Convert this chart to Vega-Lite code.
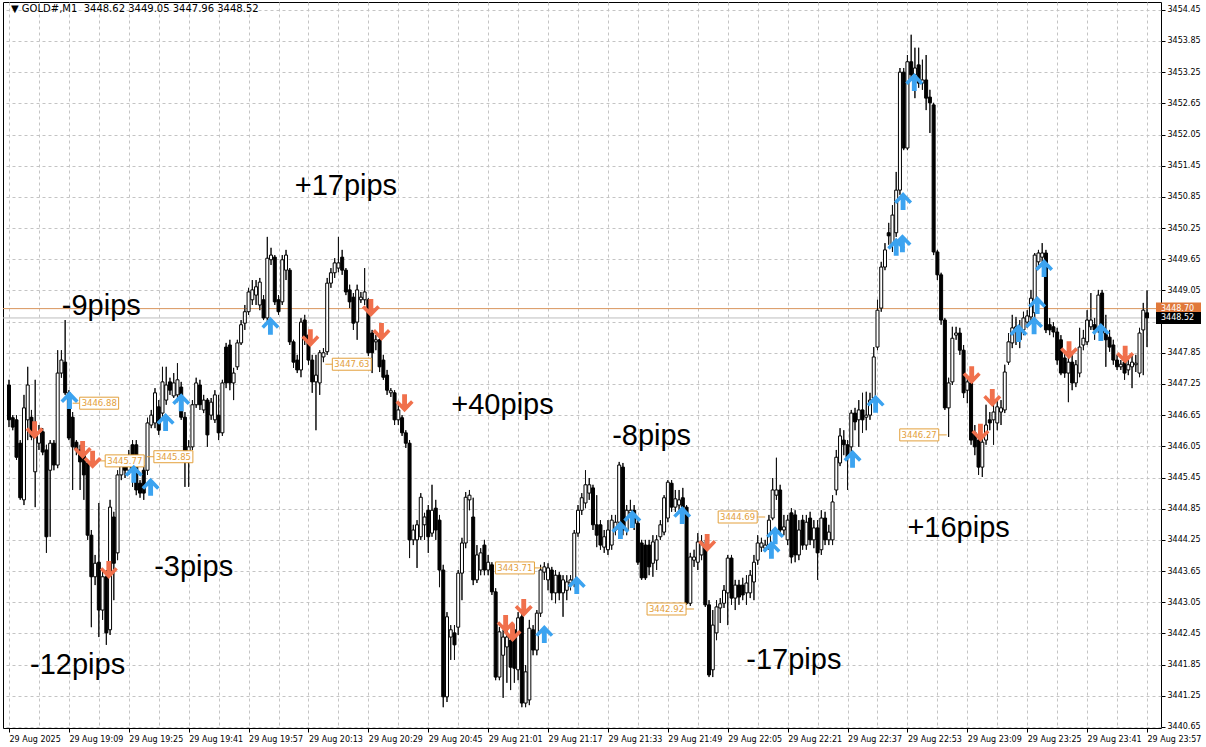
{
"$schema":"https://vega.github.io/schema/vega-lite/v6.json",
"width":1158,"height":726,
"autosize":{"type":"none"},
"padding":{"left":3,"top":2,"right":45,"bottom":19},
"background":"white",
"config":{"view":{"stroke":"#000000","strokeWidth":1},"font":"DejaVu Sans","axis":{"labelOverlap":false,"labelSeparation":0,"labelFont":"DejaVu Sans","labelFontSize":8,"labelColor":"#000000","gridDash":[3,3],"gridColor":"#c4c4c4","domain":false,"tickColor":"#000000"}},
"datasets":{
"header":[{"t":"2025-08-29T18:53","p":3454.46,"label":"▼ GOLD#,M1\u00a0 3448.62 3449.05 3447.96 3448.52"}],
"candles":[
{"t":"2025-08-29T18:53","o":3447.23,"h":3447.33,"l":3446.42,"c":3446.56},
{"t":"2025-08-29T18:54","o":3446.60,"h":3446.65,"l":3446.36,"c":3446.42},
{"t":"2025-08-29T18:55","o":3446.56,"h":3446.65,"l":3445.79,"c":3445.84},
{"t":"2025-08-29T18:56","o":3446.11,"h":3446.17,"l":3445.02,"c":3445.06},
{"t":"2025-08-29T18:57","o":3445.02,"h":3447.04,"l":3444.92,"c":3446.79},
{"t":"2025-08-29T18:58","o":3446.56,"h":3447.58,"l":3446.17,"c":3447.23},
{"t":"2025-08-29T18:59","o":3446.61,"h":3446.75,"l":3446.17,"c":3446.23},
{"t":"2025-08-29T19:00","o":3445.56,"h":3447.33,"l":3444.88,"c":3446.23},
{"t":"2025-08-29T19:01","o":3446.11,"h":3446.46,"l":3445.98,"c":3446.31},
{"t":"2025-08-29T19:02","o":3446.33,"h":3446.40,"l":3445.88,"c":3445.94},
{"t":"2025-08-29T19:03","o":3445.98,"h":3446.08,"l":3444.00,"c":3444.31},
{"t":"2025-08-29T19:04","o":3445.59,"h":3446.17,"l":3444.31,"c":3446.11},
{"t":"2025-08-29T19:05","o":3446.11,"h":3446.17,"l":3445.59,"c":3445.69},
{"t":"2025-08-29T19:06","o":3445.69,"h":3447.90,"l":3445.63,"c":3447.46},
{"t":"2025-08-29T19:07","o":3447.46,"h":3447.90,"l":3447.37,"c":3447.71},
{"t":"2025-08-29T19:08","o":3447.67,"h":3448.48,"l":3447.04,"c":3447.08},
{"t":"2025-08-29T19:09","o":3447.08,"h":3447.13,"l":3446.17,"c":3446.21},
{"t":"2025-08-29T19:10","o":3446.61,"h":3446.71,"l":3445.21,"c":3446.04},
{"t":"2025-08-29T19:11","o":3446.13,"h":3446.17,"l":3445.88,"c":3445.98},
{"t":"2025-08-29T19:12","o":3445.98,"h":3446.08,"l":3445.21,"c":3445.75},
{"t":"2025-08-29T19:13","o":3445.88,"h":3445.98,"l":3445.02,"c":3445.50},
{"t":"2025-08-29T19:14","o":3445.73,"h":3445.79,"l":3444.25,"c":3444.34},
{"t":"2025-08-29T19:15","o":3444.34,"h":3444.44,"l":3442.57,"c":3443.54},
{"t":"2025-08-29T19:16","o":3443.54,"h":3443.96,"l":3443.38,"c":3443.80},
{"t":"2025-08-29T19:17","o":3443.82,"h":3444.96,"l":3442.38,"c":3442.90},
{"t":"2025-08-29T19:18","o":3442.90,"h":3443.67,"l":3442.71,"c":3443.54},
{"t":"2025-08-29T19:19","o":3443.54,"h":3443.67,"l":3442.23,"c":3442.46},
{"t":"2025-08-29T19:20","o":3442.52,"h":3445.02,"l":3442.42,"c":3444.88},
{"t":"2025-08-29T19:21","o":3444.69,"h":3444.79,"l":3443.09,"c":3443.80},
{"t":"2025-08-29T19:22","o":3444.00,"h":3445.59,"l":3443.86,"c":3445.50},
{"t":"2025-08-29T19:23","o":3445.50,"h":3445.79,"l":3445.40,"c":3445.69},
{"t":"2025-08-29T19:24","o":3445.69,"h":3445.79,"l":3445.44,"c":3445.59},
{"t":"2025-08-29T19:25","o":3445.59,"h":3445.98,"l":3445.50,"c":3445.73},
{"t":"2025-08-29T19:26","o":3446.08,"h":3446.17,"l":3445.27,"c":3445.63},
{"t":"2025-08-29T19:27","o":3446.08,"h":3446.17,"l":3445.11,"c":3445.21},
{"t":"2025-08-29T19:28","o":3445.34,"h":3445.40,"l":3445.06,"c":3445.15},
{"t":"2025-08-29T19:29","o":3445.59,"h":3445.69,"l":3445.02,"c":3445.15},
{"t":"2025-08-29T19:30","o":3445.59,"h":3446.60,"l":3445.50,"c":3446.50},
{"t":"2025-08-29T19:31","o":3446.46,"h":3446.75,"l":3446.40,"c":3446.65},
{"t":"2025-08-29T19:32","o":3446.50,"h":3447.17,"l":3446.40,"c":3447.08},
{"t":"2025-08-29T19:33","o":3446.81,"h":3446.94,"l":3446.27,"c":3446.36},
{"t":"2025-08-29T19:34","o":3446.69,"h":3447.58,"l":3446.60,"c":3447.29},
{"t":"2025-08-29T19:35","o":3446.94,"h":3447.58,"l":3446.85,"c":3447.23},
{"t":"2025-08-29T19:36","o":3447.29,"h":3447.37,"l":3447.04,"c":3447.13},
{"t":"2025-08-29T19:37","o":3447.02,"h":3447.46,"l":3446.98,"c":3447.27},
{"t":"2025-08-29T19:38","o":3447.04,"h":3447.65,"l":3446.90,"c":3447.33},
{"t":"2025-08-29T19:39","o":3447.19,"h":3447.29,"l":3446.56,"c":3446.61},
{"t":"2025-08-29T19:40","o":3446.61,"h":3446.71,"l":3445.27,"c":3445.84},
{"t":"2025-08-29T19:41","o":3445.84,"h":3446.17,"l":3445.27,"c":3446.04},
{"t":"2025-08-29T19:42","o":3446.04,"h":3446.94,"l":3445.98,"c":3446.85},
{"t":"2025-08-29T19:43","o":3446.85,"h":3447.37,"l":3446.79,"c":3447.27},
{"t":"2025-08-29T19:44","o":3447.23,"h":3447.33,"l":3446.75,"c":3446.85},
{"t":"2025-08-29T19:45","o":3446.75,"h":3447.04,"l":3446.69,"c":3446.94},
{"t":"2025-08-29T19:46","o":3446.94,"h":3446.98,"l":3446.04,"c":3446.27},
{"t":"2025-08-29T19:47","o":3446.65,"h":3446.98,"l":3446.56,"c":3446.90},
{"t":"2025-08-29T19:48","o":3446.56,"h":3447.13,"l":3446.50,"c":3447.04},
{"t":"2025-08-29T19:49","o":3446.65,"h":3447.04,"l":3446.17,"c":3446.31},
{"t":"2025-08-29T19:50","o":3446.31,"h":3447.33,"l":3446.25,"c":3447.27},
{"t":"2025-08-29T19:51","o":3447.96,"h":3448.04,"l":3447.17,"c":3447.27},
{"t":"2025-08-29T19:52","o":3448.00,"h":3448.10,"l":3447.13,"c":3447.27},
{"t":"2025-08-29T19:53","o":3447.27,"h":3447.56,"l":3446.94,"c":3447.46},
{"t":"2025-08-29T19:54","o":3447.58,"h":3448.10,"l":3447.52,"c":3448.04},
{"t":"2025-08-29T19:55","o":3448.04,"h":3448.48,"l":3448.00,"c":3448.39},
{"t":"2025-08-29T19:56","o":3448.42,"h":3448.77,"l":3448.29,"c":3448.64},
{"t":"2025-08-29T19:57","o":3448.64,"h":3449.10,"l":3448.58,"c":3449.02},
{"t":"2025-08-29T19:58","o":3448.87,"h":3449.25,"l":3448.77,"c":3449.06},
{"t":"2025-08-29T19:59","o":3448.96,"h":3449.25,"l":3448.77,"c":3449.12},
{"t":"2025-08-29T20:00","o":3448.77,"h":3449.29,"l":3448.67,"c":3449.21},
{"t":"2025-08-29T20:01","o":3448.87,"h":3448.96,"l":3448.48,"c":3448.52},
{"t":"2025-08-29T20:02","o":3448.52,"h":3450.08,"l":3448.44,"c":3449.67},
{"t":"2025-08-29T20:03","o":3449.64,"h":3449.87,"l":3449.54,"c":3449.73},
{"t":"2025-08-29T20:04","o":3449.69,"h":3449.73,"l":3448.77,"c":3448.83},
{"t":"2025-08-29T20:05","o":3448.87,"h":3448.96,"l":3448.58,"c":3448.64},
{"t":"2025-08-29T20:06","o":3448.83,"h":3449.73,"l":3448.77,"c":3449.64},
{"t":"2025-08-29T20:07","o":3449.44,"h":3449.83,"l":3449.25,"c":3449.73},
{"t":"2025-08-29T20:08","o":3449.44,"h":3449.48,"l":3448.00,"c":3448.06},
{"t":"2025-08-29T20:09","o":3448.06,"h":3448.10,"l":3447.56,"c":3447.67},
{"t":"2025-08-29T20:10","o":3447.71,"h":3447.81,"l":3447.46,"c":3447.52},
{"t":"2025-08-29T20:11","o":3447.52,"h":3448.52,"l":3447.38,"c":3448.44},
{"t":"2025-08-29T20:12","o":3448.48,"h":3448.58,"l":3448.00,"c":3448.10},
{"t":"2025-08-29T20:13","o":3448.19,"h":3448.25,"l":3447.62,"c":3447.71},
{"t":"2025-08-29T20:14","o":3447.71,"h":3447.81,"l":3447.08,"c":3447.29},
{"t":"2025-08-29T20:15","o":3447.29,"h":3447.81,"l":3446.36,"c":3447.42},
{"t":"2025-08-29T20:16","o":3447.27,"h":3447.90,"l":3447.04,"c":3447.85},
{"t":"2025-08-29T20:17","o":3447.77,"h":3447.94,"l":3447.67,"c":3447.85},
{"t":"2025-08-29T20:18","o":3447.87,"h":3449.29,"l":3447.81,"c":3449.19},
{"t":"2025-08-29T20:19","o":3449.19,"h":3449.48,"l":3449.10,"c":3449.39},
{"t":"2025-08-29T20:20","o":3449.39,"h":3449.67,"l":3449.29,"c":3449.58},
{"t":"2025-08-29T20:21","o":3449.48,"h":3450.08,"l":3449.40,"c":3449.58},
{"t":"2025-08-29T20:22","o":3449.69,"h":3449.83,"l":3449.35,"c":3449.44},
{"t":"2025-08-29T20:23","o":3449.44,"h":3449.48,"l":3448.96,"c":3449.02},
{"t":"2025-08-29T20:24","o":3449.06,"h":3449.16,"l":3448.71,"c":3448.83},
{"t":"2025-08-29T20:25","o":3448.92,"h":3449.00,"l":3448.29,"c":3448.42},
{"t":"2025-08-29T20:26","o":3448.44,"h":3449.16,"l":3448.10,"c":3449.06},
{"t":"2025-08-29T20:27","o":3448.87,"h":3449.02,"l":3448.81,"c":3448.92},
{"t":"2025-08-29T20:28","o":3448.87,"h":3449.48,"l":3448.77,"c":3449.02},
{"t":"2025-08-29T20:29","o":3448.87,"h":3448.90,"l":3447.79,"c":3447.85},
{"t":"2025-08-29T20:30","o":3448.23,"h":3448.29,"l":3447.46,"c":3447.85},
{"t":"2025-08-29T20:31","o":3448.06,"h":3448.19,"l":3447.90,"c":3448.10},
{"t":"2025-08-29T20:32","o":3448.10,"h":3448.19,"l":3447.48,"c":3447.58},
{"t":"2025-08-29T20:33","o":3447.71,"h":3447.81,"l":3447.33,"c":3447.38},
{"t":"2025-08-29T20:34","o":3447.42,"h":3447.52,"l":3447.04,"c":3447.13},
{"t":"2025-08-29T20:35","o":3447.08,"h":3447.17,"l":3447.00,"c":3447.12},
{"t":"2025-08-29T20:36","o":3447.08,"h":3447.13,"l":3446.46,"c":3446.56},
{"t":"2025-08-29T20:37","o":3446.56,"h":3446.85,"l":3446.46,"c":3446.75},
{"t":"2025-08-29T20:38","o":3446.60,"h":3446.65,"l":3446.25,"c":3446.31},
{"t":"2025-08-29T20:39","o":3446.31,"h":3446.36,"l":3446.02,"c":3446.11},
{"t":"2025-08-29T20:40","o":3446.11,"h":3446.17,"l":3443.90,"c":3444.25},
{"t":"2025-08-29T20:41","o":3444.25,"h":3444.54,"l":3444.15,"c":3444.44},
{"t":"2025-08-29T20:42","o":3444.25,"h":3444.63,"l":3443.71,"c":3444.54},
{"t":"2025-08-29T20:43","o":3444.31,"h":3445.15,"l":3444.25,"c":3445.07},
{"t":"2025-08-29T20:44","o":3444.54,"h":3444.77,"l":3444.25,"c":3444.69},
{"t":"2025-08-29T20:45","o":3444.82,"h":3444.92,"l":3444.00,"c":3444.31},
{"t":"2025-08-29T20:46","o":3444.38,"h":3445.31,"l":3444.31,"c":3444.82},
{"t":"2025-08-29T20:47","o":3444.86,"h":3445.02,"l":3444.25,"c":3444.44},
{"t":"2025-08-29T20:48","o":3444.63,"h":3444.73,"l":3443.34,"c":3443.67},
{"t":"2025-08-29T20:49","o":3443.67,"h":3443.77,"l":3441.03,"c":3441.23},
{"t":"2025-08-29T20:50","o":3441.23,"h":3442.86,"l":3441.13,"c":3442.77},
{"t":"2025-08-29T20:51","o":3442.38,"h":3442.61,"l":3441.94,"c":3442.52},
{"t":"2025-08-29T20:52","o":3442.46,"h":3442.61,"l":3441.94,"c":3442.23},
{"t":"2025-08-29T20:53","o":3442.57,"h":3443.67,"l":3442.42,"c":3443.61},
{"t":"2025-08-29T20:54","o":3443.61,"h":3444.29,"l":3443.09,"c":3444.19},
{"t":"2025-08-29T20:55","o":3444.19,"h":3445.17,"l":3444.09,"c":3445.07},
{"t":"2025-08-29T20:56","o":3445.02,"h":3445.21,"l":3444.82,"c":3445.11},
{"t":"2025-08-29T20:57","o":3444.69,"h":3445.06,"l":3443.38,"c":3443.48},
{"t":"2025-08-29T20:58","o":3443.48,"h":3444.15,"l":3443.42,"c":3443.96},
{"t":"2025-08-29T20:59","o":3443.67,"h":3444.09,"l":3443.57,"c":3444.00},
{"t":"2025-08-29T21:00","o":3444.15,"h":3444.25,"l":3443.57,"c":3443.67},
{"t":"2025-08-29T21:01","o":3443.67,"h":3443.96,"l":3443.57,"c":3443.82},
{"t":"2025-08-29T21:02","o":3443.77,"h":3443.82,"l":3443.19,"c":3443.25},
{"t":"2025-08-29T21:03","o":3443.25,"h":3443.32,"l":3441.55,"c":3441.61},
{"t":"2025-08-29T21:04","o":3441.61,"h":3442.57,"l":3441.55,"c":3442.48},
{"t":"2025-08-29T21:05","o":3442.03,"h":3442.52,"l":3441.21,"c":3442.38},
{"t":"2025-08-29T21:06","o":3442.19,"h":3442.61,"l":3441.50,"c":3442.38},
{"t":"2025-08-29T21:07","o":3442.32,"h":3442.42,"l":3441.36,"c":3441.80},
{"t":"2025-08-29T21:08","o":3442.52,"h":3442.61,"l":3441.50,"c":3441.78},
{"t":"2025-08-29T21:09","o":3441.75,"h":3442.86,"l":3441.55,"c":3442.75},
{"t":"2025-08-29T21:10","o":3442.77,"h":3442.86,"l":3441.03,"c":3441.11},
{"t":"2025-08-29T21:11","o":3441.11,"h":3441.84,"l":3441.03,"c":3441.71},
{"t":"2025-08-29T21:12","o":3441.17,"h":3442.71,"l":3441.07,"c":3442.55},
{"t":"2025-08-29T21:13","o":3442.52,"h":3442.61,"l":3442.03,"c":3442.13},
{"t":"2025-08-29T21:14","o":3442.13,"h":3442.90,"l":3442.03,"c":3442.84},
{"t":"2025-08-29T21:15","o":3442.84,"h":3443.77,"l":3442.77,"c":3443.67},
{"t":"2025-08-29T21:16","o":3443.63,"h":3443.82,"l":3443.48,"c":3443.73},
{"t":"2025-08-29T21:17","o":3443.48,"h":3443.80,"l":3443.28,"c":3443.71},
{"t":"2025-08-29T21:18","o":3443.67,"h":3443.73,"l":3443.09,"c":3443.23},
{"t":"2025-08-29T21:19","o":3443.23,"h":3443.67,"l":3443.03,"c":3443.57},
{"t":"2025-08-29T21:20","o":3443.57,"h":3443.63,"l":3443.09,"c":3443.23},
{"t":"2025-08-29T21:21","o":3443.23,"h":3443.57,"l":3442.77,"c":3443.48},
{"t":"2025-08-29T21:22","o":3443.28,"h":3443.57,"l":3443.09,"c":3443.44},
{"t":"2025-08-29T21:23","o":3443.42,"h":3443.57,"l":3443.28,"c":3443.48},
{"t":"2025-08-29T21:24","o":3443.42,"h":3444.44,"l":3443.34,"c":3444.38},
{"t":"2025-08-29T21:25","o":3444.38,"h":3444.92,"l":3444.31,"c":3444.82},
{"t":"2025-08-29T21:26","o":3444.82,"h":3445.15,"l":3444.73,"c":3445.06},
{"t":"2025-08-29T21:27","o":3444.96,"h":3445.59,"l":3444.86,"c":3445.31},
{"t":"2025-08-29T21:28","o":3445.15,"h":3445.44,"l":3445.02,"c":3445.31},
{"t":"2025-08-29T21:29","o":3445.25,"h":3445.31,"l":3444.44,"c":3444.54},
{"t":"2025-08-29T21:30","o":3444.54,"h":3445.11,"l":3444.11,"c":3444.34},
{"t":"2025-08-29T21:31","o":3444.54,"h":3444.63,"l":3444.06,"c":3444.15},
{"t":"2025-08-29T21:32","o":3444.11,"h":3444.44,"l":3444.00,"c":3444.31},
{"t":"2025-08-29T21:33","o":3444.06,"h":3444.63,"l":3443.96,"c":3444.44},
{"t":"2025-08-29T21:34","o":3444.15,"h":3444.73,"l":3444.06,"c":3444.63},
{"t":"2025-08-29T21:35","o":3444.44,"h":3444.73,"l":3444.34,"c":3444.59},
{"t":"2025-08-29T21:36","o":3444.59,"h":3445.75,"l":3444.48,"c":3445.69},
{"t":"2025-08-29T21:37","o":3445.65,"h":3445.73,"l":3444.34,"c":3444.44},
{"t":"2025-08-29T21:38","o":3444.44,"h":3444.92,"l":3444.34,"c":3444.82},
{"t":"2025-08-29T21:39","o":3444.77,"h":3445.02,"l":3444.67,"c":3444.82},
{"t":"2025-08-29T21:40","o":3444.82,"h":3444.92,"l":3444.44,"c":3444.57},
{"t":"2025-08-29T21:41","o":3444.57,"h":3444.63,"l":3443.77,"c":3443.82},
{"t":"2025-08-29T21:42","o":3444.19,"h":3444.25,"l":3443.48,"c":3443.52},
{"t":"2025-08-29T21:43","o":3444.15,"h":3444.25,"l":3443.48,"c":3443.52},
{"t":"2025-08-29T21:44","o":3444.15,"h":3444.25,"l":3443.57,"c":3443.73},
{"t":"2025-08-29T21:45","o":3443.80,"h":3444.34,"l":3443.54,"c":3444.21},
{"t":"2025-08-29T21:46","o":3443.86,"h":3444.34,"l":3443.67,"c":3444.25},
{"t":"2025-08-29T21:47","o":3444.31,"h":3444.63,"l":3444.25,"c":3444.54},
{"t":"2025-08-29T21:48","o":3444.40,"h":3445.11,"l":3444.34,"c":3445.06},
{"t":"2025-08-29T21:49","o":3444.67,"h":3445.40,"l":3444.59,"c":3445.36},
{"t":"2025-08-29T21:50","o":3445.34,"h":3445.40,"l":3444.79,"c":3444.88},
{"t":"2025-08-29T21:51","o":3444.88,"h":3445.21,"l":3444.79,"c":3445.04},
{"t":"2025-08-29T21:52","o":3444.92,"h":3445.21,"l":3444.82,"c":3445.02},
{"t":"2025-08-29T21:53","o":3445.06,"h":3445.25,"l":3444.79,"c":3444.88},
{"t":"2025-08-29T21:54","o":3444.88,"h":3444.92,"l":3443.00,"c":3443.03},
{"t":"2025-08-29T21:55","o":3443.03,"h":3444.00,"l":3442.98,"c":3443.92},
{"t":"2025-08-29T21:56","o":3443.86,"h":3444.06,"l":3443.73,"c":3443.92},
{"t":"2025-08-29T21:57","o":3443.82,"h":3444.38,"l":3443.67,"c":3444.21},
{"t":"2025-08-29T21:58","o":3443.96,"h":3444.34,"l":3443.86,"c":3444.21},
{"t":"2025-08-29T21:59","o":3444.15,"h":3444.25,"l":3442.96,"c":3443.00},
{"t":"2025-08-29T22:00","o":3443.00,"h":3443.09,"l":3441.61,"c":3441.65},
{"t":"2025-08-29T22:01","o":3441.75,"h":3442.90,"l":3441.61,"c":3442.61},
{"t":"2025-08-29T22:02","o":3442.46,"h":3443.09,"l":3442.32,"c":3442.96},
{"t":"2025-08-29T22:03","o":3442.94,"h":3443.13,"l":3442.65,"c":3443.02},
{"t":"2025-08-29T22:04","o":3443.03,"h":3443.38,"l":3442.94,"c":3443.28},
{"t":"2025-08-29T22:05","o":3443.23,"h":3443.96,"l":3442.61,"c":3443.90},
{"t":"2025-08-29T22:06","o":3443.90,"h":3443.96,"l":3443.00,"c":3443.13},
{"t":"2025-08-29T22:07","o":3443.13,"h":3443.48,"l":3442.90,"c":3443.38},
{"t":"2025-08-29T22:08","o":3443.38,"h":3443.48,"l":3443.00,"c":3443.15},
{"t":"2025-08-29T22:09","o":3443.38,"h":3443.52,"l":3443.09,"c":3443.19},
{"t":"2025-08-29T22:10","o":3443.23,"h":3443.57,"l":3443.00,"c":3443.42},
{"t":"2025-08-29T22:11","o":3443.23,"h":3443.67,"l":3443.13,"c":3443.57},
{"t":"2025-08-29T22:12","o":3443.44,"h":3443.96,"l":3443.09,"c":3443.82},
{"t":"2025-08-29T22:13","o":3443.86,"h":3444.34,"l":3443.77,"c":3444.19},
{"t":"2025-08-29T22:14","o":3444.11,"h":3444.29,"l":3444.02,"c":3444.19},
{"t":"2025-08-29T22:15","o":3444.09,"h":3444.25,"l":3444.02,"c":3444.15},
{"t":"2025-08-29T22:16","o":3444.15,"h":3444.73,"l":3444.06,"c":3444.63},
{"t":"2025-08-29T22:17","o":3444.67,"h":3445.44,"l":3444.63,"c":3445.21},
{"t":"2025-08-29T22:18","o":3445.11,"h":3445.83,"l":3445.02,"c":3445.21},
{"t":"2025-08-29T22:19","o":3445.21,"h":3445.31,"l":3444.34,"c":3444.44},
{"t":"2025-08-29T22:20","o":3444.44,"h":3444.73,"l":3444.34,"c":3444.50},
{"t":"2025-08-29T22:21","o":3444.25,"h":3444.73,"l":3444.15,"c":3444.63},
{"t":"2025-08-29T22:22","o":3444.77,"h":3444.86,"l":3443.80,"c":3443.92},
{"t":"2025-08-29T22:23","o":3444.73,"h":3444.82,"l":3443.82,"c":3443.96},
{"t":"2025-08-29T22:24","o":3443.96,"h":3444.63,"l":3443.86,"c":3444.44},
{"t":"2025-08-29T22:25","o":3444.63,"h":3444.73,"l":3444.06,"c":3444.15},
{"t":"2025-08-29T22:26","o":3444.15,"h":3444.73,"l":3444.06,"c":3444.59},
{"t":"2025-08-29T22:27","o":3444.67,"h":3444.79,"l":3444.15,"c":3444.25},
{"t":"2025-08-29T22:28","o":3444.25,"h":3444.63,"l":3444.09,"c":3444.48},
{"t":"2025-08-29T22:29","o":3444.48,"h":3444.63,"l":3443.48,"c":3444.00},
{"t":"2025-08-29T22:30","o":3444.06,"h":3444.82,"l":3443.96,"c":3444.67},
{"t":"2025-08-29T22:31","o":3444.67,"h":3444.79,"l":3444.15,"c":3444.25},
{"t":"2025-08-29T22:32","o":3444.25,"h":3444.54,"l":3444.15,"c":3444.40},
{"t":"2025-08-29T22:33","o":3444.25,"h":3445.11,"l":3444.15,"c":3444.98},
{"t":"2025-08-29T22:34","o":3445.21,"h":3445.98,"l":3445.11,"c":3445.84},
{"t":"2025-08-29T22:35","o":3445.73,"h":3446.40,"l":3445.67,"c":3446.25},
{"t":"2025-08-29T22:36","o":3446.17,"h":3446.36,"l":3445.88,"c":3446.08},
{"t":"2025-08-29T22:37","o":3446.08,"h":3446.17,"l":3445.21,"c":3445.84},
{"t":"2025-08-29T22:38","o":3446.04,"h":3446.75,"l":3445.94,"c":3446.69},
{"t":"2025-08-29T22:39","o":3446.69,"h":3446.79,"l":3446.36,"c":3446.52},
{"t":"2025-08-29T22:40","o":3446.56,"h":3446.94,"l":3446.04,"c":3446.75},
{"t":"2025-08-29T22:41","o":3446.75,"h":3447.08,"l":3446.31,"c":3446.56},
{"t":"2025-08-29T22:42","o":3446.61,"h":3447.10,"l":3446.36,"c":3446.65},
{"t":"2025-08-29T22:43","o":3446.65,"h":3447.08,"l":3446.56,"c":3446.94},
{"t":"2025-08-29T22:44","o":3446.98,"h":3447.96,"l":3446.90,"c":3447.77},
{"t":"2025-08-29T22:45","o":3447.96,"h":3448.87,"l":3447.90,"c":3448.67},
{"t":"2025-08-29T22:46","o":3448.71,"h":3449.60,"l":3448.64,"c":3449.50},
{"t":"2025-08-29T22:47","o":3449.50,"h":3449.96,"l":3449.44,"c":3449.83},
{"t":"2025-08-29T22:48","o":3450.16,"h":3450.35,"l":3449.93,"c":3450.10},
{"t":"2025-08-29T22:49","o":3449.93,"h":3450.69,"l":3449.79,"c":3450.50},
{"t":"2025-08-29T22:50","o":3450.16,"h":3451.33,"l":3450.08,"c":3450.98},
{"t":"2025-08-29T22:51","o":3450.98,"h":3453.33,"l":3450.89,"c":3453.25},
{"t":"2025-08-29T22:52","o":3453.25,"h":3453.33,"l":3451.75,"c":3451.79},
{"t":"2025-08-29T22:53","o":3451.79,"h":3453.58,"l":3451.75,"c":3453.45},
{"t":"2025-08-29T22:54","o":3453.45,"h":3453.97,"l":3453.10,"c":3453.20},
{"t":"2025-08-29T22:55","o":3453.20,"h":3453.72,"l":3452.75,"c":3453.33},
{"t":"2025-08-29T22:56","o":3453.39,"h":3453.72,"l":3452.95,"c":3453.04},
{"t":"2025-08-29T22:57","o":3453.04,"h":3453.49,"l":3452.91,"c":3453.10},
{"t":"2025-08-29T22:58","o":3453.10,"h":3453.58,"l":3452.52,"c":3452.75},
{"t":"2025-08-29T22:59","o":3452.77,"h":3452.91,"l":3452.08,"c":3452.66},
{"t":"2025-08-29T23:00","o":3452.62,"h":3452.66,"l":3449.73,"c":3449.79},
{"t":"2025-08-29T23:01","o":3449.79,"h":3449.83,"l":3449.25,"c":3449.35},
{"t":"2025-08-29T23:02","o":3449.35,"h":3449.39,"l":3448.39,"c":3448.48},
{"t":"2025-08-29T23:03","o":3448.48,"h":3448.52,"l":3446.75,"c":3446.79},
{"t":"2025-08-29T23:04","o":3446.79,"h":3447.37,"l":3446.23,"c":3447.27},
{"t":"2025-08-29T23:05","o":3447.29,"h":3448.35,"l":3447.23,"c":3448.13},
{"t":"2025-08-29T23:06","o":3448.19,"h":3448.35,"l":3448.10,"c":3448.23},
{"t":"2025-08-29T23:07","o":3448.23,"h":3448.33,"l":3447.81,"c":3447.90},
{"t":"2025-08-29T23:08","o":3447.90,"h":3448.00,"l":3446.98,"c":3447.08},
{"t":"2025-08-29T23:09","o":3447.13,"h":3447.42,"l":3446.88,"c":3447.29},
{"t":"2025-08-29T23:10","o":3447.27,"h":3447.37,"l":3446.08,"c":3446.17},
{"t":"2025-08-29T23:11","o":3446.31,"h":3446.46,"l":3445.88,"c":3446.04},
{"t":"2025-08-29T23:12","o":3446.17,"h":3446.27,"l":3445.50,"c":3445.65},
{"t":"2025-08-29T23:13","o":3445.65,"h":3446.27,"l":3445.46,"c":3446.13},
{"t":"2025-08-29T23:14","o":3446.17,"h":3446.85,"l":3446.08,"c":3446.46},
{"t":"2025-08-29T23:15","o":3446.56,"h":3446.71,"l":3446.36,"c":3446.50},
{"t":"2025-08-29T23:16","o":3446.56,"h":3446.85,"l":3446.08,"c":3446.71},
{"t":"2025-08-29T23:17","o":3446.50,"h":3446.94,"l":3446.36,"c":3446.81},
{"t":"2025-08-29T23:18","o":3446.71,"h":3446.94,"l":3446.46,"c":3446.79},
{"t":"2025-08-29T23:19","o":3446.75,"h":3447.62,"l":3446.69,"c":3447.48},
{"t":"2025-08-29T23:20","o":3447.67,"h":3448.23,"l":3447.62,"c":3448.06},
{"t":"2025-08-29T23:21","o":3448.04,"h":3448.58,"l":3447.94,"c":3448.33},
{"t":"2025-08-29T23:22","o":3448.29,"h":3448.54,"l":3448.00,"c":3448.35},
{"t":"2025-08-29T23:23","o":3448.33,"h":3448.48,"l":3447.94,"c":3448.10},
{"t":"2025-08-29T23:24","o":3448.29,"h":3448.64,"l":3448.19,"c":3448.52},
{"t":"2025-08-29T23:25","o":3448.44,"h":3448.67,"l":3448.33,"c":3448.56},
{"t":"2025-08-29T23:26","o":3448.54,"h":3449.06,"l":3448.44,"c":3448.90},
{"t":"2025-08-29T23:27","o":3448.62,"h":3449.77,"l":3448.52,"c":3449.73},
{"t":"2025-08-29T23:28","o":3449.60,"h":3449.83,"l":3449.48,"c":3449.77},
{"t":"2025-08-29T23:29","o":3449.69,"h":3449.96,"l":3449.60,"c":3449.77},
{"t":"2025-08-29T23:30","o":3449.77,"h":3449.83,"l":3448.23,"c":3448.29},
{"t":"2025-08-29T23:31","o":3448.39,"h":3448.52,"l":3448.19,"c":3448.29},
{"t":"2025-08-29T23:32","o":3448.35,"h":3448.44,"l":3448.15,"c":3448.25},
{"t":"2025-08-29T23:33","o":3448.25,"h":3448.33,"l":3447.62,"c":3447.71},
{"t":"2025-08-29T23:34","o":3448.10,"h":3448.19,"l":3447.42,"c":3447.46},
{"t":"2025-08-29T23:35","o":3447.75,"h":3447.87,"l":3447.37,"c":3447.46},
{"t":"2025-08-29T23:36","o":3447.46,"h":3447.81,"l":3446.90,"c":3447.67},
{"t":"2025-08-29T23:37","o":3447.67,"h":3447.81,"l":3447.13,"c":3447.27},
{"t":"2025-08-29T23:38","o":3447.27,"h":3447.71,"l":3447.19,"c":3447.62},
{"t":"2025-08-29T23:39","o":3447.46,"h":3448.33,"l":3447.38,"c":3447.96},
{"t":"2025-08-29T23:40","o":3448.00,"h":3448.29,"l":3447.90,"c":3448.13},
{"t":"2025-08-29T23:41","o":3448.06,"h":3448.67,"l":3448.00,"c":3448.48},
{"t":"2025-08-29T23:42","o":3448.35,"h":3449.00,"l":3448.29,"c":3448.48},
{"t":"2025-08-29T23:43","o":3448.39,"h":3448.52,"l":3448.10,"c":3448.29},
{"t":"2025-08-29T23:44","o":3448.29,"h":3449.06,"l":3448.23,"c":3448.96},
{"t":"2025-08-29T23:45","o":3449.00,"h":3449.06,"l":3448.10,"c":3448.23},
{"t":"2025-08-29T23:46","o":3448.23,"h":3448.58,"l":3447.58,"c":3448.10},
{"t":"2025-08-29T23:47","o":3448.15,"h":3448.29,"l":3447.87,"c":3447.96},
{"t":"2025-08-29T23:48","o":3448.00,"h":3448.10,"l":3447.62,"c":3447.71},
{"t":"2025-08-29T23:49","o":3447.71,"h":3447.81,"l":3447.52,"c":3447.58},
{"t":"2025-08-29T23:50","o":3447.58,"h":3447.71,"l":3447.52,"c":3447.63},
{"t":"2025-08-29T23:51","o":3447.67,"h":3447.77,"l":3447.33,"c":3447.46},
{"t":"2025-08-29T23:52","o":3447.52,"h":3447.75,"l":3447.42,"c":3447.62},
{"t":"2025-08-29T23:53","o":3447.58,"h":3447.81,"l":3447.17,"c":3447.67},
{"t":"2025-08-29T23:54","o":3447.62,"h":3447.81,"l":3447.48,"c":3447.65},
{"t":"2025-08-29T23:55","o":3447.46,"h":3448.33,"l":3447.38,"c":3448.23},
{"t":"2025-08-29T23:56","o":3448.29,"h":3448.81,"l":3447.42,"c":3448.67},
{"t":"2025-08-29T23:57","o":3448.62,"h":3449.05,"l":3447.96,"c":3448.52}
],
"arrows":[
{"t":"2025-08-29T19:09:10","p":3446.94,"dir":"up"},
{"t":"2025-08-29T19:26:20","p":3445.52,"dir":"up"},
{"t":"2025-08-29T19:30:50","p":3445.27,"dir":"up"},
{"t":"2025-08-29T19:34:50","p":3446.52,"dir":"up"},
{"t":"2025-08-29T19:39:00","p":3446.90,"dir":"up"},
{"t":"2025-08-29T20:02:50","p":3448.37,"dir":"up"},
{"t":"2025-08-29T21:16:00","p":3442.44,"dir":"up"},
{"t":"2025-08-29T21:24:40","p":3443.38,"dir":"up"},
{"t":"2025-08-29T21:36:20","p":3444.44,"dir":"up"},
{"t":"2025-08-29T21:39:30","p":3444.65,"dir":"up"},
{"t":"2025-08-29T21:52:50","p":3444.73,"dir":"up"},
{"t":"2025-08-29T22:16:40","p":3444.06,"dir":"up"},
{"t":"2025-08-29T22:17:40","p":3444.34,"dir":"up"},
{"t":"2025-08-29T22:38:20","p":3445.81,"dir":"up"},
{"t":"2025-08-29T22:44:30","p":3446.87,"dir":"up"},
{"t":"2025-08-29T22:50:00","p":3449.89,"dir":"up"},
{"t":"2025-08-29T22:51:40","p":3449.96,"dir":"up"},
{"t":"2025-08-29T22:51:50","p":3450.77,"dir":"up"},
{"t":"2025-08-29T22:54:50","p":3453.06,"dir":"up"},
{"t":"2025-08-29T23:22:40","p":3448.23,"dir":"up"},
{"t":"2025-08-29T23:26:50","p":3448.38,"dir":"up"},
{"t":"2025-08-29T23:27:40","p":3448.77,"dir":"up"},
{"t":"2025-08-29T23:29:30","p":3449.48,"dir":"up"},
{"t":"2025-08-29T23:44:40","p":3448.25,"dir":"up"},
{"t":"2025-08-29T18:59:50","p":3446.36,"dir":"down"},
{"t":"2025-08-29T19:12:40","p":3445.98,"dir":"down"},
{"t":"2025-08-29T19:15:20","p":3445.79,"dir":"down"},
{"t":"2025-08-29T19:19:40","p":3443.67,"dir":"down"},
{"t":"2025-08-29T20:13:30","p":3448.13,"dir":"down"},
{"t":"2025-08-29T20:29:40","p":3448.71,"dir":"down"},
{"t":"2025-08-29T20:32:30","p":3448.25,"dir":"down"},
{"t":"2025-08-29T20:38:40","p":3446.88,"dir":"down"},
{"t":"2025-08-29T21:05:40","p":3442.63,"dir":"down"},
{"t":"2025-08-29T21:07:30","p":3442.46,"dir":"down"},
{"t":"2025-08-29T21:10:30","p":3442.94,"dir":"down"},
{"t":"2025-08-29T21:59:30","p":3444.19,"dir":"down"},
{"t":"2025-08-29T23:10:10","p":3447.42,"dir":"down"},
{"t":"2025-08-29T23:12:30","p":3446.31,"dir":"down"},
{"t":"2025-08-29T23:15:40","p":3446.98,"dir":"down"},
{"t":"2025-08-29T23:36:10","p":3447.90,"dir":"down"},
{"t":"2025-08-29T23:51:10","p":3447.81,"dir":"down"}
],
"tags":[
{"t":"2025-08-29T19:10:00","p":3446.88,"label":"3446.88","side":"left"},
{"t":"2025-08-29T19:16:50","p":3445.77,"label":"3445.77","side":"left"},
{"t":"2025-08-29T19:29:50","p":3445.85,"label":"3445.85","side":"left"},
{"t":"2025-08-29T20:17:30","p":3447.63,"label":"3447.63","side":"left"},
{"t":"2025-08-29T21:15:30","p":3443.71,"label":"3443.71","side":"right"},
{"t":"2025-08-29T21:56:00","p":3442.92,"label":"3442.92","side":"right"},
{"t":"2025-08-29T22:15:00","p":3444.69,"label":"3444.69","side":"right"},
{"t":"2025-08-29T23:03:30","p":3446.27,"label":"3446.27","side":"right"}
],
"notes":[
{"t":"2025-08-29T19:17:40","p":3448.75,"label":"-9pips"},
{"t":"2025-08-29T20:23:00","p":3451.06,"label":"+17pips"},
{"t":"2025-08-29T21:04:50","p":3446.85,"label":"+40pips"},
{"t":"2025-08-29T21:44:40","p":3446.25,"label":"-8pips"},
{"t":"2025-08-29T19:42:20","p":3443.73,"label":"-3pips"},
{"t":"2025-08-29T19:11:20","p":3441.84,"label":"-12pips"},
{"t":"2025-08-29T22:22:40","p":3441.94,"label":"-17pips"},
{"t":"2025-08-29T23:06:40","p":3444.48,"label":"+16pips"}
],
"levels":[
{"t":"2025-08-29T23:59:24","p":3448.70,"label":"3448.70","name":"line"},
{"t":"2025-08-29T23:59:24","p":3448.52,"label":"3448.52","name":"bid"}
]
},
"layer":[
{"data":{"name":"candles"},"mark":{"type":"rule","color":"#111111","strokeWidth":1},
 "encoding":{
 "x":{"field":"t","type":"temporal","scale":{"domain":[{"year":2025,"month":8,"date":29,"hours":18,"minutes":52,"seconds":44},{"year":2025,"month":8,"date":29,"hours":23,"minutes":59,"seconds":24}],"nice":false},
  "axis":{"title":null,"grid":true,"gridDash":[3,3],"gridColor":"#c4c4c4","domain":false,"tickColor":"#000000","tickSize":4,"tickCount":200,
  "tickOpacity":{"condition":{"test":"(60*hours(datum.value)+minutes(datum.value)-1133)%16==0","value":1},"value":0},
  "labelExpr":"(60*hours(datum.value)+minutes(datum.value)-1133)%16==0 ? ((60*hours(datum.value)+minutes(datum.value))==1133 ? '29 Aug 2025' : timeFormat(datum.value,'%d %b %H:%M')) : ''",
  "labelAlign":"left","labelBaseline":"top","labelPadding":3,"labelFontSize":8,"labelFont":"DejaVu Sans","labelColor":"#000000","labelOverlap":false,"labelFlush":false,"labelBound":false,
  "values":[
  {"year":2025,"month":8,"date":29,"hours":18,"minutes":53},{"year":2025,"month":8,"date":29,"hours":19,"minutes":1},{"year":2025,"month":8,"date":29,"hours":19,"minutes":9},{"year":2025,"month":8,"date":29,"hours":19,"minutes":17},{"year":2025,"month":8,"date":29,"hours":19,"minutes":25},{"year":2025,"month":8,"date":29,"hours":19,"minutes":33},{"year":2025,"month":8,"date":29,"hours":19,"minutes":41},{"year":2025,"month":8,"date":29,"hours":19,"minutes":49},{"year":2025,"month":8,"date":29,"hours":19,"minutes":57},
  {"year":2025,"month":8,"date":29,"hours":20,"minutes":5},{"year":2025,"month":8,"date":29,"hours":20,"minutes":13},{"year":2025,"month":8,"date":29,"hours":20,"minutes":21},{"year":2025,"month":8,"date":29,"hours":20,"minutes":29},{"year":2025,"month":8,"date":29,"hours":20,"minutes":37},{"year":2025,"month":8,"date":29,"hours":20,"minutes":45},{"year":2025,"month":8,"date":29,"hours":20,"minutes":53},
  {"year":2025,"month":8,"date":29,"hours":21,"minutes":1},{"year":2025,"month":8,"date":29,"hours":21,"minutes":9},{"year":2025,"month":8,"date":29,"hours":21,"minutes":17},{"year":2025,"month":8,"date":29,"hours":21,"minutes":25},{"year":2025,"month":8,"date":29,"hours":21,"minutes":33},{"year":2025,"month":8,"date":29,"hours":21,"minutes":41},{"year":2025,"month":8,"date":29,"hours":21,"minutes":49},{"year":2025,"month":8,"date":29,"hours":21,"minutes":57},
  {"year":2025,"month":8,"date":29,"hours":22,"minutes":5},{"year":2025,"month":8,"date":29,"hours":22,"minutes":13},{"year":2025,"month":8,"date":29,"hours":22,"minutes":21},{"year":2025,"month":8,"date":29,"hours":22,"minutes":29},{"year":2025,"month":8,"date":29,"hours":22,"minutes":37},{"year":2025,"month":8,"date":29,"hours":22,"minutes":45},{"year":2025,"month":8,"date":29,"hours":22,"minutes":53},
  {"year":2025,"month":8,"date":29,"hours":23,"minutes":1},{"year":2025,"month":8,"date":29,"hours":23,"minutes":9},{"year":2025,"month":8,"date":29,"hours":23,"minutes":17},{"year":2025,"month":8,"date":29,"hours":23,"minutes":25},{"year":2025,"month":8,"date":29,"hours":23,"minutes":33},{"year":2025,"month":8,"date":29,"hours":23,"minutes":41},{"year":2025,"month":8,"date":29,"hours":23,"minutes":49},{"year":2025,"month":8,"date":29,"hours":23,"minutes":57}]}},
 "y":{"field":"l","type":"quantitative","scale":{"domain":[3440.63,3454.6],"nice":false,"zero":false},
  "axis":{"title":null,"orient":"right","grid":true,"gridDash":[3,3],"gridColor":"#c4c4c4","domain":false,"tickColor":"#000000","tickSize":4,"tickCount":200,"labelPadding":2,"labelFontSize":8,"labelFont":"DejaVu Sans","labelColor":"#000000","labelOverlap":false,"labelSeparation":0,"labelFlush":false,"labelBound":false,"format":".2f",
  "values":[3440.65,3441.25,3441.85,3442.45,3443.05,3443.65,3444.25,3444.85,3445.45,3446.05,3446.65,3447.25,3447.85,3448.45,3449.05,3449.65,3450.25,3450.85,3451.45,3452.05,3452.65,3453.25,3453.85,3454.45]}},
 "y2":{"field":"h"}}},
{"data":{"name":"levels"},"mark":{"type":"rule","strokeWidth":1},
 "encoding":{"y":{"field":"p","type":"quantitative","scale":{"domain":[3440.63,3454.6],"nice":false,"zero":false}},
 "color":{"condition":{"test":"datum.name=='line'","value":"#D9965E"},"value":"#BDBDBD"}}},
{"data":{"name":"candles"},"mark":{"type":"rule","color":"#111111","strokeWidth":1},
 "encoding":{
 "x":{"field":"t","type":"temporal","scale":{"domain":[{"year":2025,"month":8,"date":29,"hours":18,"minutes":52,"seconds":44},{"year":2025,"month":8,"date":29,"hours":23,"minutes":59,"seconds":24}],"nice":false}},
 "y":{"field":"l","type":"quantitative","scale":{"domain":[3440.63,3454.6],"nice":false,"zero":false}},
 "y2":{"field":"h"}}},
{"data":{"name":"candles"},"mark":{"type":"bar","width":3,"stroke":"#000000","strokeWidth":1},
 "encoding":{
 "x":{"field":"t","type":"temporal","scale":{"domain":[{"year":2025,"month":8,"date":29,"hours":18,"minutes":52,"seconds":44},{"year":2025,"month":8,"date":29,"hours":23,"minutes":59,"seconds":24}],"nice":false}},
 "y":{"field":"o","type":"quantitative","scale":{"domain":[3440.63,3454.6],"nice":false,"zero":false}},
 "y2":{"field":"c"},
 "fill":{"condition":{"test":"datum.c >= datum.o","value":"#ffffff"},"value":"#000000"}}},
{"data":{"name":"tags"},"transform":[{"filter":"datum.side=='left'"}],
 "mark":{"type":"point","shape":"M0,0H0.35M0.35,-0.3H2.3V0.3H0.35Z","size":1600,"filled":true,"fill":"#ffffff","stroke":"#E3A03C","strokeWidth":1,"opacity":1},
 "encoding":{"x":{"field":"t","type":"temporal","scale":{"domain":[{"year":2025,"month":8,"date":29,"hours":18,"minutes":52,"seconds":44},{"year":2025,"month":8,"date":29,"hours":23,"minutes":59,"seconds":24}],"nice":false}},
 "y":{"field":"p","type":"quantitative","scale":{"domain":[3440.63,3454.6],"nice":false,"zero":false}}}},
{"data":{"name":"tags"},"transform":[{"filter":"datum.side=='right'"}],
 "mark":{"type":"point","shape":"M0,0H-0.4M-0.4,-0.3H-2.35V0.3H-0.4Z","size":1600,"filled":true,"fill":"#ffffff","stroke":"#E3A03C","strokeWidth":1,"opacity":1},
 "encoding":{"x":{"field":"t","type":"temporal","scale":{"domain":[{"year":2025,"month":8,"date":29,"hours":18,"minutes":52,"seconds":44},{"year":2025,"month":8,"date":29,"hours":23,"minutes":59,"seconds":24}],"nice":false}},
 "y":{"field":"p","type":"quantitative","scale":{"domain":[3440.63,3454.6],"nice":false,"zero":false}}}},
{"data":{"name":"tags"},"transform":[{"filter":"datum.side=='left'"}],
 "mark":{"type":"text","align":"left","baseline":"middle","dx":9,"fontSize":8.5,"font":"DejaVu Sans","color":"#E3A03C"},
 "encoding":{"x":{"field":"t","type":"temporal","scale":{"domain":[{"year":2025,"month":8,"date":29,"hours":18,"minutes":52,"seconds":44},{"year":2025,"month":8,"date":29,"hours":23,"minutes":59,"seconds":24}],"nice":false}},
 "y":{"field":"p","type":"quantitative","scale":{"domain":[3440.63,3454.6],"nice":false,"zero":false}},
 "text":{"field":"label"}}},
{"data":{"name":"tags"},"transform":[{"filter":"datum.side=='right'"}],
 "mark":{"type":"text","align":"right","baseline":"middle","dx":-10,"fontSize":8.5,"font":"DejaVu Sans","color":"#E3A03C"},
 "encoding":{"x":{"field":"t","type":"temporal","scale":{"domain":[{"year":2025,"month":8,"date":29,"hours":18,"minutes":52,"seconds":44},{"year":2025,"month":8,"date":29,"hours":23,"minutes":59,"seconds":24}],"nice":false}},
 "y":{"field":"p","type":"quantitative","scale":{"domain":[3440.63,3454.6],"nice":false,"zero":false}},
 "text":{"field":"label"}}},
{"data":{"name":"arrows"},"transform":[{"filter":"datum.dir=='up'"}],
 "mark":{"type":"point","shape":"M0,-1L1,0.05L0.72,0.32L0.27,-0.13L0.27,1L-0.27,1L-0.27,-0.13L-0.72,0.32L-1,0.05Z","size":324,"filled":true,"color":"#3CA3F0","opacity":1},
 "encoding":{"x":{"field":"t","type":"temporal","scale":{"domain":[{"year":2025,"month":8,"date":29,"hours":18,"minutes":52,"seconds":44},{"year":2025,"month":8,"date":29,"hours":23,"minutes":59,"seconds":24}],"nice":false}},
 "y":{"field":"p","type":"quantitative","scale":{"domain":[3440.63,3454.6],"nice":false,"zero":false}}}},
{"data":{"name":"arrows"},"transform":[{"filter":"datum.dir=='down'"}],
 "mark":{"type":"point","shape":"M0,1L1,-0.05L0.72,-0.32L0.27,0.13L0.27,-1L-0.27,-1L-0.27,0.13L-0.72,-0.32L-1,-0.05Z","size":324,"filled":true,"color":"#F0704C","opacity":1},
 "encoding":{"x":{"field":"t","type":"temporal","scale":{"domain":[{"year":2025,"month":8,"date":29,"hours":18,"minutes":52,"seconds":44},{"year":2025,"month":8,"date":29,"hours":23,"minutes":59,"seconds":24}],"nice":false}},
 "y":{"field":"p","type":"quantitative","scale":{"domain":[3440.63,3454.6],"nice":false,"zero":false}}}},
{"data":{"name":"notes"},
 "mark":{"type":"text","align":"center","baseline":"middle","fontSize":29,"font":"Liberation Sans","color":"#000000"},
 "encoding":{"x":{"field":"t","type":"temporal","scale":{"domain":[{"year":2025,"month":8,"date":29,"hours":18,"minutes":52,"seconds":44},{"year":2025,"month":8,"date":29,"hours":23,"minutes":59,"seconds":24}],"nice":false}},
 "y":{"field":"p","type":"quantitative","scale":{"domain":[3440.63,3454.6],"nice":false,"zero":false}},
 "text":{"field":"label"}}},
{"data":{"name":"header"},
 "mark":{"type":"text","align":"left","baseline":"middle","dx":2,"fontSize":10,"font":"DejaVu Sans","color":"#000000"},
 "encoding":{"x":{"field":"t","type":"temporal","scale":{"domain":[{"year":2025,"month":8,"date":29,"hours":18,"minutes":52,"seconds":44},{"year":2025,"month":8,"date":29,"hours":23,"minutes":59,"seconds":24}],"nice":false}},
 "y":{"field":"p","type":"quantitative","scale":{"domain":[3440.63,3454.6],"nice":false,"zero":false}},
 "text":{"field":"label"}}},
{"data":{"name":"levels"},
 "mark":{"type":"point","shape":"M0,-0.27H2V0.27H0Z","size":2025,"filled":true,"opacity":1,"strokeWidth":0},
 "encoding":{"x":{"field":"t","type":"temporal","scale":{"domain":[{"year":2025,"month":8,"date":29,"hours":18,"minutes":52,"seconds":44},{"year":2025,"month":8,"date":29,"hours":23,"minutes":59,"seconds":24}],"nice":false}},
 "y":{"field":"p","type":"quantitative","scale":{"domain":[3440.63,3454.6],"nice":false,"zero":false}},
 "fill":{"condition":{"test":"datum.name=='line'","value":"#E0783A"},"value":"#000000"}}},
{"data":{"name":"levels"},
 "mark":{"type":"text","align":"left","baseline":"middle","dx":5,"fontSize":8,"font":"DejaVu Sans","color":"#ffffff"},
 "encoding":{"x":{"field":"t","type":"temporal","scale":{"domain":[{"year":2025,"month":8,"date":29,"hours":18,"minutes":52,"seconds":44},{"year":2025,"month":8,"date":29,"hours":23,"minutes":59,"seconds":24}],"nice":false}},
 "y":{"field":"p","type":"quantitative","scale":{"domain":[3440.63,3454.6],"nice":false,"zero":false}},
 "text":{"field":"label"}}}
]
}
